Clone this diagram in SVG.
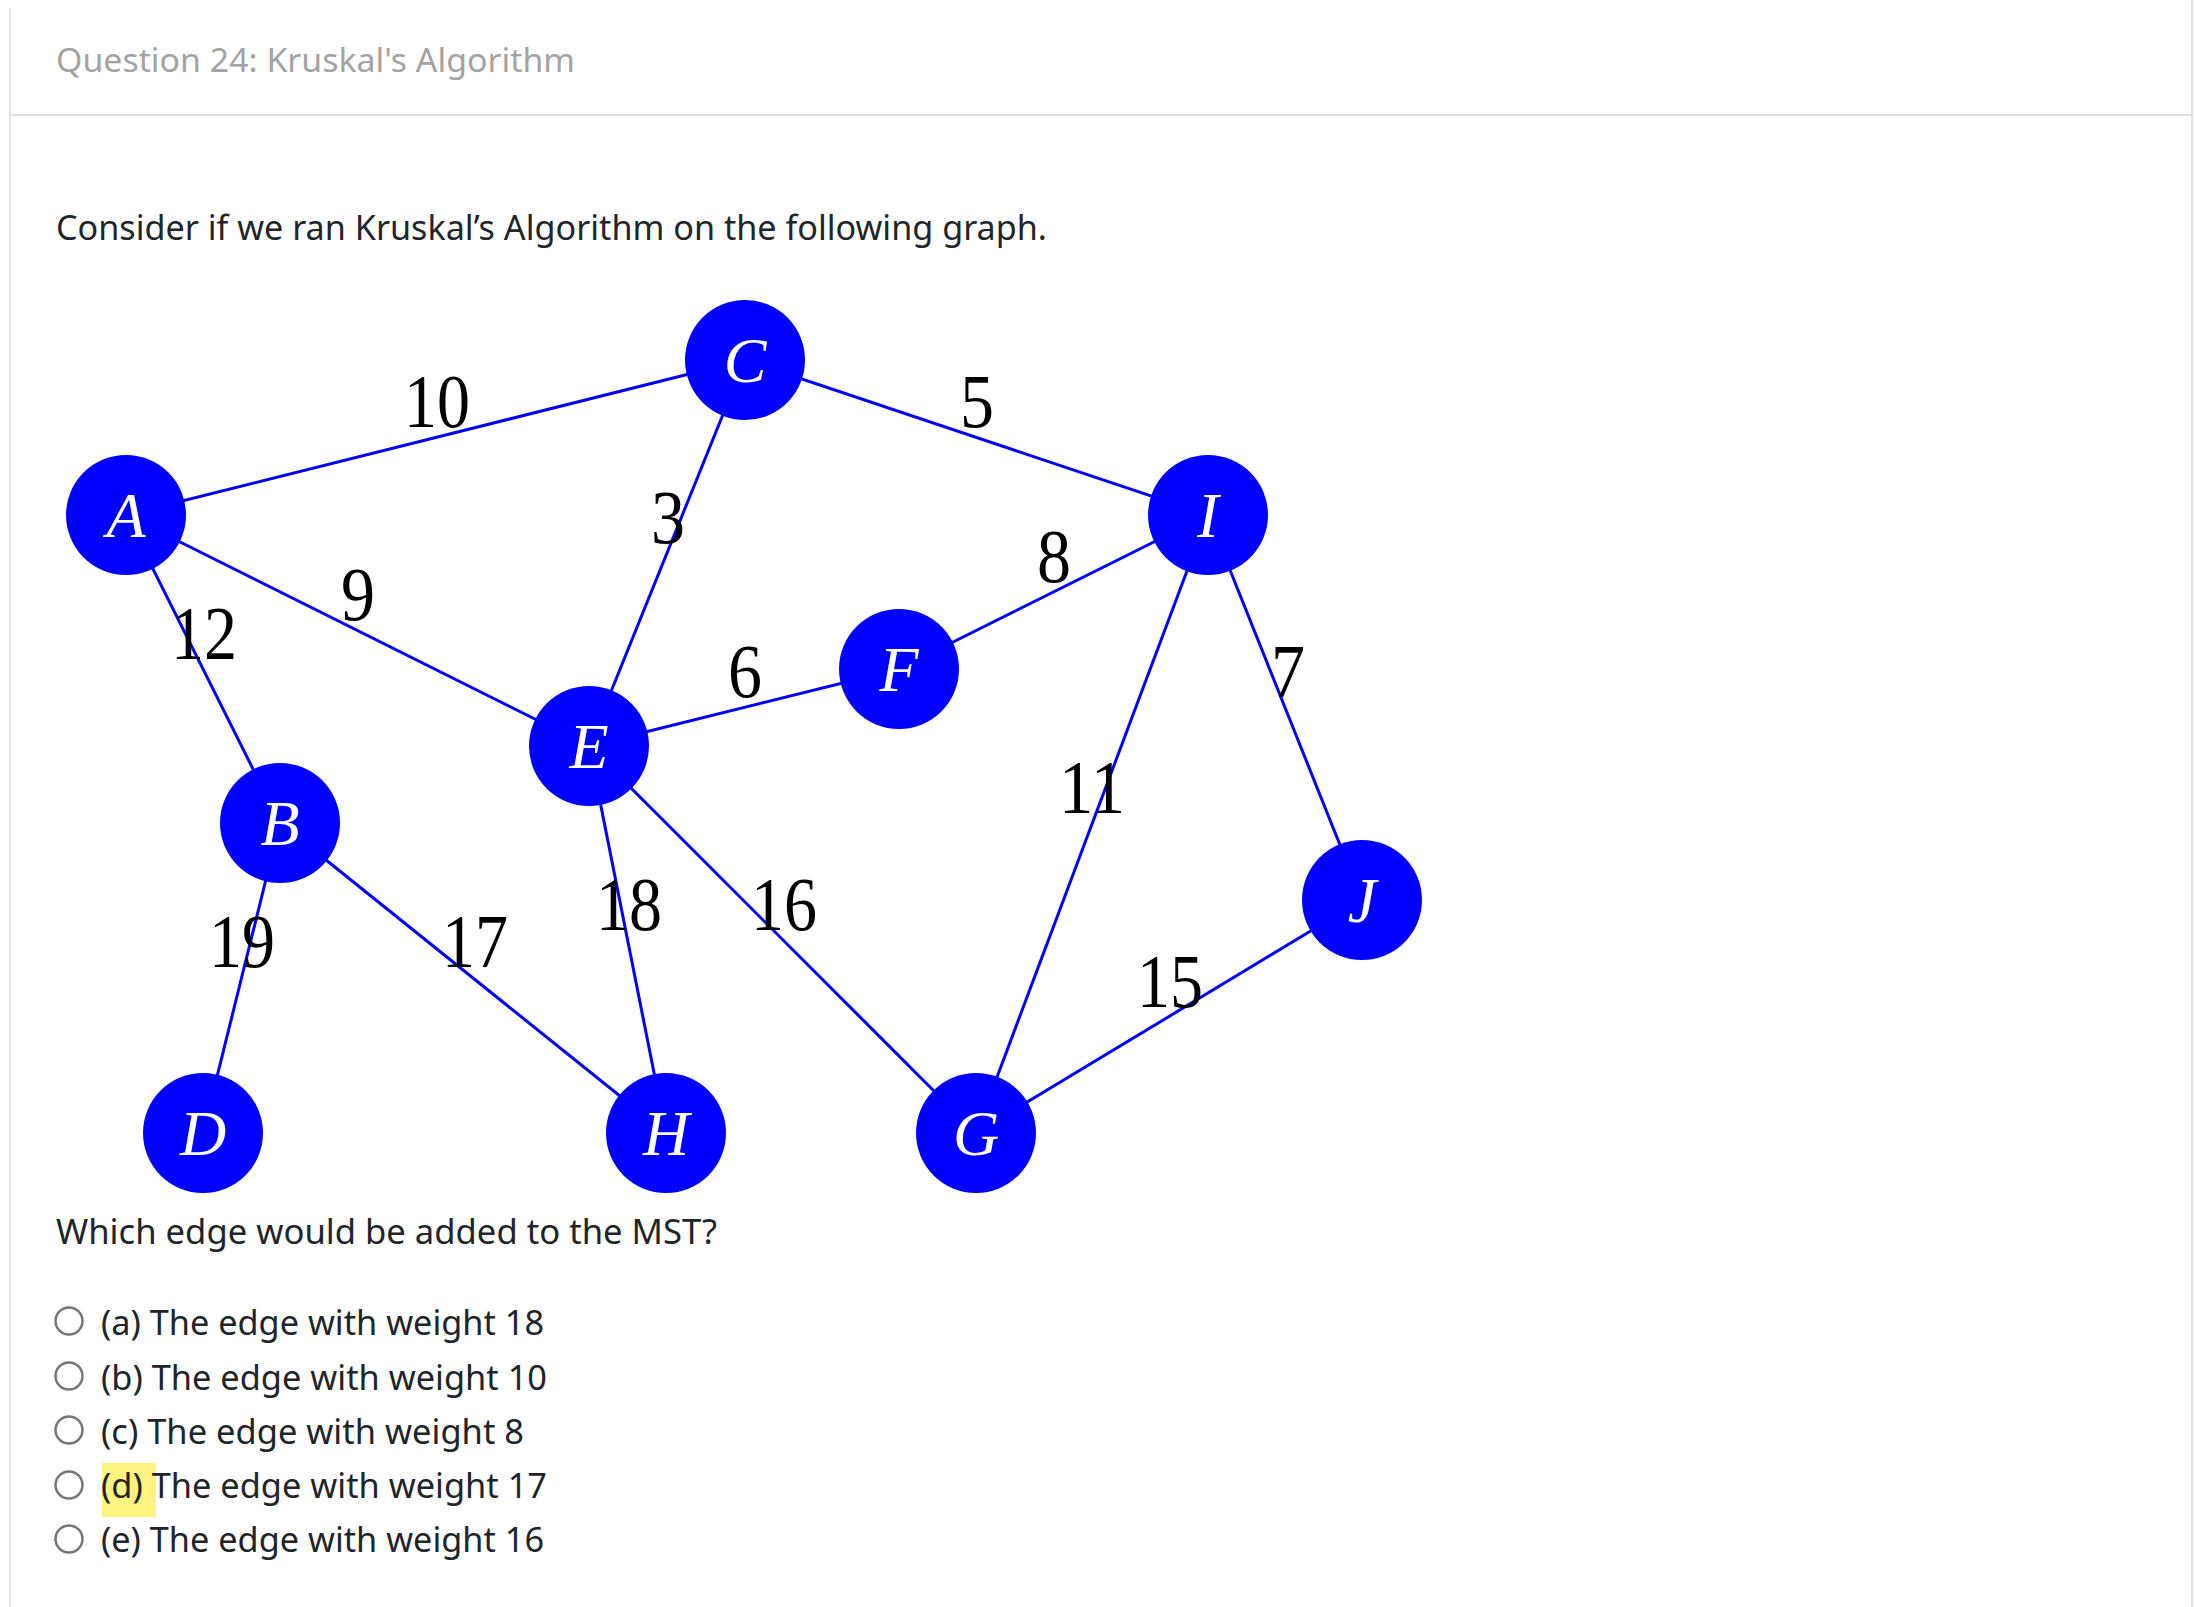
<svg xmlns="http://www.w3.org/2000/svg" width="2194" height="1607" viewBox="0 0 2194 1607">
<style>
.ui{font-family:"Noto Sans","Open Sans","Liberation Sans",sans-serif;}
.title{font-size:33px;fill:#a3a3a3;}
.body{font-size:35px;fill:#212529;}
.edge{stroke:#0000ff;stroke-width:3;fill:none;}
.node{fill:#0000ff;}
.nl{font-family:"Liberation Serif","DejaVu Serif",serif;font-style:italic;font-size:64px;fill:#ffffff;text-anchor:middle;}
.wl{font-family:"Liberation Serif","DejaVu Serif",serif;font-size:77px;fill:#000000;text-anchor:middle;}
.radio{fill:#ffffff;stroke:#767676;stroke-width:2.5;}
</style>
<rect x="0" y="0" width="2194" height="1607" fill="#ffffff"/>
<g id="frame">
<line x1="10" y1="8" x2="10" y2="1607" stroke="#e2e2e2" stroke-width="2"/>
<line x1="2192" y1="0" x2="2192" y2="1607" stroke="#e2e2e2" stroke-width="2"/>
<line x1="11" y1="115" x2="2192" y2="115" stroke="#dedede" stroke-width="2"/>
</g>
<text class="ui title" x="56" y="72" textLength="519" lengthAdjust="spacingAndGlyphs">Question 24: Kruskal's Algorithm</text>
<text class="ui body" x="56" y="240" textLength="991" lengthAdjust="spacingAndGlyphs">Consider if we ran Kruskal’s Algorithm on the following graph.</text>
<g id="connectors">
<line class="edge" x1="126" y1="515" x2="745" y2="360"/>
<line class="edge" x1="745" y1="360" x2="1208" y2="515"/>
<line class="edge" x1="745" y1="360" x2="589" y2="746"/>
<line class="edge" x1="126" y1="515" x2="589" y2="746"/>
<line class="edge" x1="126" y1="515" x2="280" y2="823"/>
<line class="edge" x1="589" y1="746" x2="899" y2="669"/>
<line class="edge" x1="899" y1="669" x2="1208" y2="515"/>
<line class="edge" x1="1208" y1="515" x2="976" y2="1133"/>
<line class="edge" x1="1208" y1="515" x2="1362" y2="900"/>
<line class="edge" x1="589" y1="746" x2="976" y2="1133"/>
<line class="edge" x1="589" y1="746" x2="666" y2="1133"/>
<line class="edge" x1="280" y1="823" x2="666" y2="1133"/>
<line class="edge" x1="280" y1="823" x2="203" y2="1133"/>
<line class="edge" x1="976" y1="1133" x2="1362" y2="900"/>
</g>
<g id="weights">
<text class="wl" x="437" y="427" textLength="66" lengthAdjust="spacingAndGlyphs">10</text>
<text class="wl" x="977" y="427" textLength="34" lengthAdjust="spacingAndGlyphs">5</text>
<text class="wl" x="668" y="543" textLength="34" lengthAdjust="spacingAndGlyphs">3</text>
<text class="wl" x="1054" y="582" textLength="34" lengthAdjust="spacingAndGlyphs">8</text>
<text class="wl" x="358" y="620" textLength="34" lengthAdjust="spacingAndGlyphs">9</text>
<text class="wl" x="204" y="659" textLength="66" lengthAdjust="spacingAndGlyphs">12</text>
<text class="wl" x="745" y="697" textLength="34" lengthAdjust="spacingAndGlyphs">6</text>
<text class="wl" x="1288" y="697" textLength="34" lengthAdjust="spacingAndGlyphs">7</text>
<text class="wl" x="1092" y="813" textLength="66" lengthAdjust="spacingAndGlyphs">11</text>
<text class="wl" x="629" y="930" textLength="66" lengthAdjust="spacingAndGlyphs">18</text>
<text class="wl" x="784" y="930" textLength="66" lengthAdjust="spacingAndGlyphs">16</text>
<text class="wl" x="242" y="967" textLength="66" lengthAdjust="spacingAndGlyphs">19</text>
<text class="wl" x="475" y="967" textLength="66" lengthAdjust="spacingAndGlyphs">17</text>
<text class="wl" x="1170" y="1007" textLength="66" lengthAdjust="spacingAndGlyphs">15</text>
</g>
<g id="node-C"><circle class="node" cx="745" cy="360" r="60"/><text class="nl" x="745" y="382">C</text></g>
<g id="node-A"><circle class="node" cx="126" cy="515" r="60"/><text class="nl" x="126" y="537">A</text></g>
<g id="node-I"><circle class="node" cx="1208" cy="515" r="60"/><text class="nl" x="1208" y="537">I</text></g>
<g id="node-F"><circle class="node" cx="899" cy="669" r="60"/><text class="nl" x="899" y="691">F</text></g>
<g id="node-E"><circle class="node" cx="589" cy="746" r="60"/><text class="nl" x="589" y="768">E</text></g>
<g id="node-B"><circle class="node" cx="280" cy="823" r="60"/><text class="nl" x="280" y="845">B</text></g>
<g id="node-J"><circle class="node" cx="1362" cy="900" r="60"/><text class="nl" x="1362" y="922">J</text></g>
<g id="node-D"><circle class="node" cx="203" cy="1133" r="60"/><text class="nl" x="203" y="1155">D</text></g>
<g id="node-H"><circle class="node" cx="666" cy="1133" r="60"/><text class="nl" x="666" y="1155">H</text></g>
<g id="node-G"><circle class="node" cx="976" cy="1133" r="60"/><text class="nl" x="976" y="1155">G</text></g>
<text class="ui body" x="56" y="1244" textLength="661" lengthAdjust="spacingAndGlyphs">Which edge would be added to the MST?</text>
<g id="options">
<rect x="102" y="1463" width="54" height="54" fill="#fff47f"/>
<circle class="radio" cx="69" cy="1321" r="13.5"/>
<circle class="radio" cx="69" cy="1376" r="13.5"/>
<circle class="radio" cx="69" cy="1430" r="13.5"/>
<circle class="radio" cx="69" cy="1485" r="13.5"/>
<circle class="radio" cx="69" cy="1539" r="13.5"/>
<text class="ui body" x="101" y="1335" textLength="443" lengthAdjust="spacingAndGlyphs">(a) The edge with weight 18</text>
<text class="ui body" x="101" y="1390" textLength="446" lengthAdjust="spacingAndGlyphs">(b) The edge with weight 10</text>
<text class="ui body" x="101" y="1444" textLength="423" lengthAdjust="spacingAndGlyphs">(c) The edge with weight 8</text>
<text class="ui body" x="101" y="1498" textLength="446" lengthAdjust="spacingAndGlyphs">(d) The edge with weight 17</text>
<text class="ui body" x="101" y="1552" textLength="443" lengthAdjust="spacingAndGlyphs">(e) The edge with weight 16</text>
</g>
</svg>
